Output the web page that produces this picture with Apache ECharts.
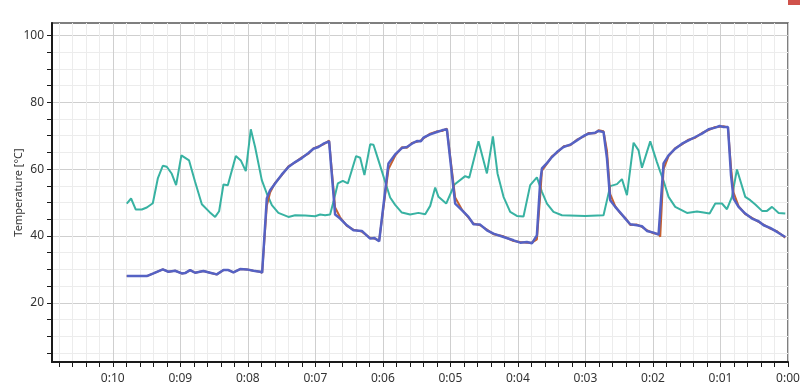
<!DOCTYPE html>
<html>
<head>
<meta charset="utf-8">
<script src="https://cdn.jsdelivr.net/npm/echarts@6/dist/echarts.min.js"></script>
<style>
html,body{margin:0;padding:0;background:#fff;}
#chart{width:800px;height:390px;}
</style>
</head>
<body>
<div id="chart"></div>
<script>
// ---- Data (time = minutes before 0:00) ----
const tealTimes = [9.793,9.729,9.659,9.570,9.496,9.407,9.333,9.259,9.200,9.126,9.062,8.984,8.870,8.781,8.681,8.569,8.484,8.425,8.361,8.296,8.178,8.104,8.030,7.956,7.892,7.793,7.719,7.644,7.547,7.399,7.299,7.151,7.003,6.929,6.855,6.781,6.732,6.667,6.593,6.519,6.396,6.336,6.273,6.188,6.139,6.065,5.966,5.892,5.818,5.719,5.596,5.473,5.373,5.299,5.225,5.176,5.062,4.939,4.781,4.721,4.584,4.459,4.370,4.302,4.213,4.114,4.015,3.917,3.818,3.719,3.644,3.570,3.473,3.348,3.003,2.732,2.633,2.533,2.459,2.385,2.287,2.213,2.163,2.040,1.941,1.892,1.843,1.769,1.670,1.496,1.348,1.250,1.161,1.077,0.978,0.904,0.830,0.756,0.633,0.559,0.484,0.385,0.311,0.237,0.139,0.040];
const tealValues = [49.7,51.2,47.9,47.9,48.5,49.8,57.2,61.0,60.7,58.6,55.2,64.1,62.6,56.2,49.5,47.2,45.7,47.4,55.4,55.2,63.9,62.6,59.4,71.9,66.6,56.7,52.7,49.2,46.9,45.7,46.2,46.1,45.9,46.4,46.2,46.4,50.2,55.7,56.5,55.7,63.9,63.4,58.2,67.4,67.3,62.6,56.2,51.5,49.3,47.0,46.4,46.9,46.5,49.0,54.5,51.7,49.7,55.4,57.9,57.4,68.3,58.7,69.8,58.7,51.7,47.2,46.0,45.8,55.2,57.5,53.2,49.7,47.2,46.2,46.0,46.2,54.9,55.5,57.0,52.2,67.9,65.6,60.4,68.3,62.1,59.2,56.5,51.7,48.7,46.9,47.3,47.0,46.7,49.7,49.7,48.0,51.7,59.9,51.7,50.7,49.4,47.5,47.5,48.7,46.9,46.7];

const blueTimes = [9.793,9.496,9.398,9.259,9.176,9.077,8.978,8.929,8.855,8.781,8.658,8.559,8.459,8.361,8.287,8.213,8.114,8.015,7.917,7.818,7.788,7.719,7.670,7.596,7.496,7.399,7.299,7.200,7.102,7.028,6.954,6.880,6.796,6.707,6.633,6.533,6.436,6.311,6.188,6.124,6.055,5.917,5.818,5.719,5.644,5.570,5.496,5.437,5.399,5.299,5.200,5.126,5.052,4.929,4.830,4.732,4.658,4.559,4.459,4.361,4.213,4.065,3.966,3.867,3.793,3.719,3.670,3.644,3.570,3.496,3.422,3.324,3.225,3.126,3.028,2.954,2.855,2.806,2.732,2.681,2.633,2.559,2.484,2.410,2.336,2.237,2.163,2.089,1.991,1.917,1.892,1.843,1.769,1.670,1.570,1.473,1.373,1.274,1.176,1.077,1.013,0.954,0.889,0.844,0.806,0.732,0.633,0.533,0.436,0.361,0.264,0.163,0.040];
const blueValues = [28.0,28.0,28.8,30.0,29.3,29.6,28.8,28.9,29.8,29.0,29.5,29.0,28.5,29.8,29.8,29.1,30.1,30.0,29.6,29.3,29.0,51.2,53.7,55.7,58.4,60.6,62.1,63.3,64.8,66.1,66.6,67.6,68.3,46.4,45.2,43.2,41.7,41.5,39.2,39.4,38.4,61.7,64.4,66.3,66.6,67.6,68.4,68.3,69.4,70.4,71.1,71.6,71.9,49.7,47.7,45.7,43.5,43.4,41.7,40.7,39.7,38.7,38.0,38.2,37.8,40.2,56.2,60.2,61.8,63.6,65.1,66.6,67.3,68.6,69.9,70.6,70.9,71.4,71.1,63.2,50.7,48.7,47.0,45.2,43.5,43.2,42.9,41.5,41.0,40.4,40.2,61.7,64.1,66.1,67.6,68.6,69.6,70.6,71.9,72.4,72.9,72.6,72.6,58.2,51.2,48.7,46.7,45.2,44.4,43.2,42.4,41.2,39.7];
const redValues = [28.0,28.0,28.8,30.0,29.3,29.6,28.8,28.9,29.8,29.0,29.5,29.0,28.5,29.8,29.8,29.1,30.1,30.0,29.6,29.3,29.0,49.0,53.0,55.9,58.2,60.8,62.0,63.5,64.6,66.2,66.8,67.4,68.5,48.5,45.6,43.0,41.9,41.3,39.4,39.2,38.6,60.0,64.0,66.5,66.4,67.8,68.2,68.6,69.2,70.6,71.3,71.4,72.1,51.5,47.9,45.5,43.7,43.2,41.9,40.5,39.9,38.5,38.2,38.0,38.0,39.0,52.0,59.5,61.6,63.8,64.9,66.8,67.1,68.8,69.7,70.8,70.7,71.6,71.3,65.5,52.5,48.9,46.8,45.4,43.3,43.4,42.7,41.7,40.8,40.6,39.8,60.0,63.9,66.3,67.4,68.8,69.4,70.8,71.7,72.6,72.7,72.8,72.4,60.5,53.0,48.9,46.5,45.4,44.2,43.4,42.2,41.4,39.5];

// ---- Axis ticks ----
const xMajorTicks = [0,1,2,3,4,5,6,7,8,9,10];
const xMinorTicks = [];
for (let i = 0; i <= 54; i++) xMinorTicks.push(+(i * 0.2).toFixed(1));
const yLabelTicks = [20,40,60,80,100];
const yMinorTicks = [5,10,15,20,25,30,35,40,45,50,55,60,65,70,75,80,85,90,95,100];

const zip = (t, v) => t.map((x, i) => [x, v[i]]);
const FONT = 'Noto Sans';

const chart = echarts.init(document.getElementById('chart'), null, {renderer: 'canvas'});
chart.setOption({
  animation: false,
  backgroundColor: '#ffffff',
  textStyle: {fontFamily: FONT},
  grid: {left: 52, right: 12, top: 23, bottom: 28, containLabel: false, outerBoundsMode: 'none',
         show: true, borderColor: '#555', borderWidth: 1.5, backgroundColor: 'transparent'},
  xAxis: [{
    type: 'value', inverse: true, min: 0, max: 10.9,
    position: 'bottom',
    axisLine: {show: true, onZero: false, lineStyle: {color: '#1a1a1a', width: 2}},
    axisTick: {show: true, length: 5, customValues: xMinorTicks, lineStyle: {color: '#1a1a1a', width: 1}},
    axisLabel: {show: true, customValues: xMajorTicks, margin: 11, color: '#333', fontSize: 12, fontFamily: FONT,
      formatter: v => '0:' + String(Math.round(v)).padStart(2, '0')},
    splitLine: {show: true, lineStyle: {color: '#ececec', width: 1}}
  }, {
    type: 'value', inverse: true, min: 0, max: 10.9,
    position: 'bottom',
    axisLine: {show: false},
    axisTick: {show: false, customValues: xMajorTicks},
    axisLabel: {show: false},
    splitLine: {show: true, lineStyle: {color: '#cfcfcf', width: 1}}
  }],
  yAxis: [{
    type: 'value', min: 2.3, max: 103.7,
    name: 'Temperature [°C]', nameLocation: 'middle', nameGap: 28, nameMoveOverlap: false,
    nameTextStyle: {color: '#333', fontSize: 11, fontFamily: FONT},
    axisLine: {show: true, onZero: false, lineStyle: {color: '#1a1a1a', width: 2}},
    axisTick: {show: true, length: 5, customValues: yMinorTicks, lineStyle: {color: '#1a1a1a', width: 1}},
    axisLabel: {show: true, customValues: yLabelTicks, margin: 8, color: '#333', fontSize: 12, fontFamily: FONT},
    splitLine: {show: true, lineStyle: {color: '#ececec', width: 1}}
  }, {
    type: 'value', min: 2.3, max: 103.7, position: 'left',
    axisLine: {show: false},
    axisTick: {show: false, customValues: yLabelTicks},
    axisLabel: {show: false},
    splitLine: {show: true, lineStyle: {color: '#cfcfcf', width: 1}}
  }],
  series: [{
    type: 'line', name: 'teal', xAxisIndex: 0, yAxisIndex: 0,
    data: zip(tealTimes, tealValues), showSymbol: false,
    lineStyle: {color: '#38b2a2', width: 2}, itemStyle: {color: '#38b2a2'}
  }, {
    type: 'line', name: 'red', xAxisIndex: 0, yAxisIndex: 0,
    data: zip(blueTimes, redValues), showSymbol: false,
    lineStyle: {color: '#c6602f', width: 2}, itemStyle: {color: '#c6602f'}
  }, {
    type: 'line', name: 'blue', xAxisIndex: 0, yAxisIndex: 0,
    data: zip(blueTimes, blueValues), showSymbol: false,
    lineStyle: {color: '#5562c4', width: 2.5}, itemStyle: {color: '#5562c4'}
  }],
  graphic: [{
    type: 'rect', shape: {x: 788, y: 0, width: 12, height: 5},
    style: {fill: '#d0524b'}
  }]
});
</script>
</body>
</html>
